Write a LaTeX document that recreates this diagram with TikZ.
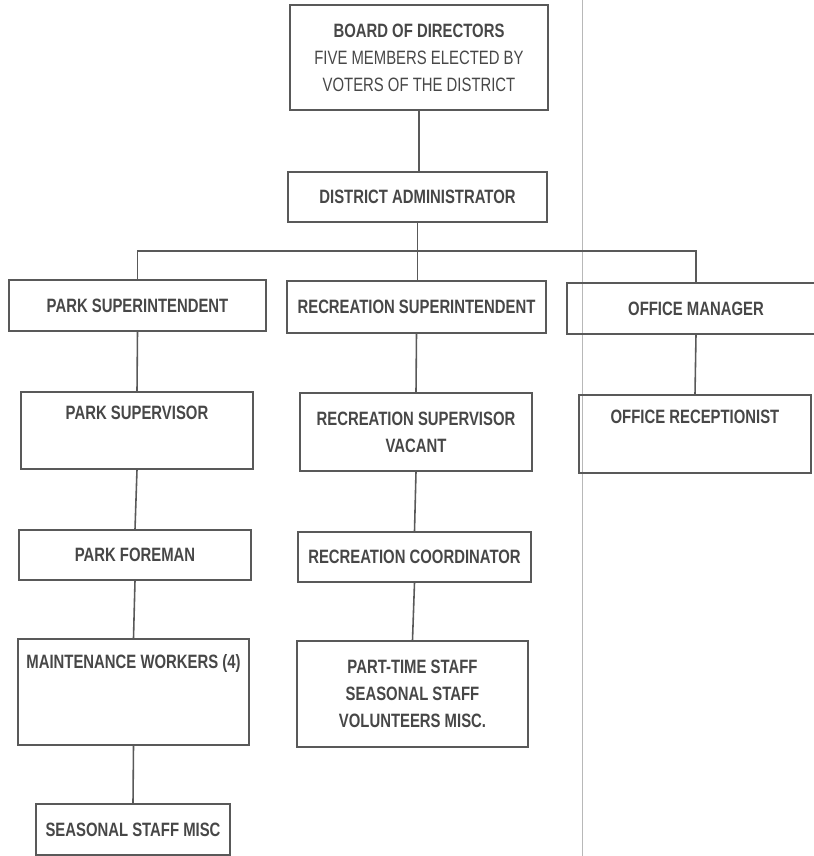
\documentclass[tikz,border=0pt]{standalone}
\usepackage{fontspec}
\setmainfont{Liberation Sans}[FakeStretch=0.77]
\usepackage{xcolor}
\usepackage{tikz}
\usetikzlibrary{positioning,calc}

\begin{document}
\begin{tikzpicture}[x=0.02cm, y=-0.02cm,
  box/.style={draw=black!65, line width=0.9pt, align=center, text=black!72,
    font=\fontsize{11}{15.3}\selectfont\bfseries, inner sep=0pt},
  boxsize/.style 2 args={minimum width=#1*0.02cm, minimum height=#2*0.02cm},
  link/.style={draw=black!65, line width=0.9pt}]
  \useasboundingbox (0,0) rectangle (814,856);
  % 扫描折痕
  \draw[black!28, line width=0.5pt] (582,0) -- (582,856);
  % 董事会
  \node[box, boxsize={258}{105}] (board) at (419,57.5)
    {BOARD OF DIRECTORS\\{\mdseries FIVE MEMBERS ELECTED BY}\\{\mdseries VOTERS OF THE DISTRICT}};
  \node[box, boxsize={259}{50}] (admin) at (417.5,197) {DISTRICT ADMINISTRATOR};
  % 三个部门
  \node[box, boxsize={257}{51}] (parksup) at (137.5,305.5) {PARK SUPERINTENDENT};
  \node[box, boxsize={259}{52}] (recsup) at (416.5,307) {RECREATION SUPERINTENDENT};
  \node[box, boxsize={258}{51}] (officemgr) at (696,308.5) {OFFICE MANAGER};
  % 第二层
  \node[box, boxsize={232}{77}] (parksupv) at (137,430.5) {PARK SUPERVISOR\\ \strut};
  \node[box, boxsize={232}{78}] (recsupv) at (416,432) {RECREATION SUPERVISOR\\VACANT};
  \node[box, boxsize={232}{78}] (officerec) at (695,434) {OFFICE RECEPTIONIST\\ \strut};
  % 第三层
  \node[box, boxsize={232}{50}] (foreman) at (135,555) {PARK FOREMAN};
  \node[box, boxsize={233}{50}] (reccoord) at (414.5,557) {RECREATION COORDINATOR};
  % 第四层
  \node[box, boxsize={231}{106}] (maint) at (133.5,692) {MAINTENANCE WORKERS (4)\\ \strut\\ \strut};
  \node[box, boxsize={231}{106}] (parttime) at (412.5,694) {PART-TIME STAFF\\SEASONAL STAFF\\VOLUNTEERS MISC.};
  \node[box, boxsize={194}{51}] (seasonal) at (133,829.5) {SEASONAL STAFF MISC};
  % 连线
  \coordinate (bus) at (418,251);
  \draw[link] (board.south) -- (board.south |- admin.north);
  \draw[link] (admin.south) -- (admin.south |- recsup.north);
  \draw[link] (parksup.north) |- (bus) -| (officemgr.north);
  \draw[link] (parksup.south) -- (parksupv.north);
  \draw[link] (parksupv.south) -- (foreman.north);
  \draw[link] (foreman.south) -- (maint.north);
  \draw[link] (maint.south) -- (seasonal.north);
  \draw[link] (recsup.south) -- (recsupv.north);
  \draw[link] (recsupv.south) -- (reccoord.north);
  \draw[link] (reccoord.south) -- (parttime.north);
  \draw[link] (officemgr.south) -- (officerec.north);
\end{tikzpicture}
\end{document}
